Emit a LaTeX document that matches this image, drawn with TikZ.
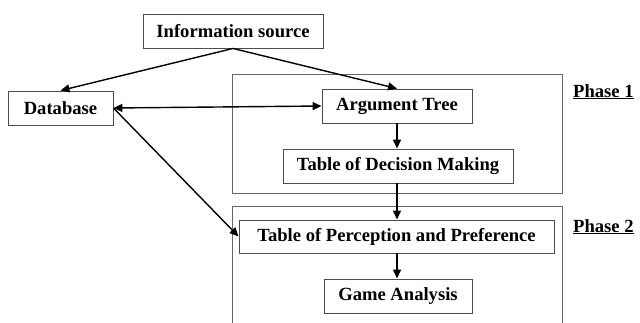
\documentclass[tikz,border=0pt]{standalone}
\usepackage{fontspec}
\setmainfont{Liberation Serif}
\usetikzlibrary{arrows.meta}
\begin{document}
\begin{tikzpicture}[x=1pt,y=-1pt,
  box/.style={draw=black!70,line width=0.9pt,inner sep=0pt,minimum height=34pt,font=\fontsize{18.6}{20}\selectfont\bfseries},
  frame/.style={draw=black!60,line width=0.9pt},
  conn/.style={line width=1.4pt,-{Triangle[length=9pt,width=8pt]}},
  lab/.style={font=\fontsize{18.6}{20}\selectfont\bfseries,anchor=base west,inner sep=0pt}]
\useasboundingbox (0,0) rectangle (640,322);
\begin{scope}
\clip (0,0) rectangle (640,322);
\draw[frame] (232,74) rectangle (562,193);
\draw[frame] (232,206) rectangle (562,340);
\end{scope}
\node[box,minimum width=180pt] (info) at (233,31) {Information source};
\node[box,minimum width=105pt] (db) at (60.5,108) {Database};
\node[box,minimum width=150pt] (arg) at (397,106) {Argument Tree};
\node[box,minimum width=230pt] (dec) at (398,166) {Table of Decision Making};
\node[box,minimum width=315pt,minimum height=33pt] (per) at (396.5,236.5) {Table of Perception and Preference};
\node[box,minimum width=148pt] (game) at (398,296) {Game Analysis};
\node[lab] (p1) at (573,97) {\underline{Phase 1}};
\node[lab] (p2) at (573,232) {\underline{Phase 2}};
\draw[conn] (info.south) -- (db.north);
\draw[conn] (info.south) -- (arg.north);
\draw[conn,{Triangle[length=9pt,width=8pt]}-{Triangle[length=9pt,width=8pt]}] (db.east) -- (arg.west);
\draw[conn] (db.east) -- (per.west);
\draw[conn] (arg.south) -- (arg.south |- dec.north);
\draw[conn] (arg.south |- dec.south) -- (arg.south |- per.north);
\draw[conn] (arg.south |- per.south) -- (arg.south |- game.north);
\end{tikzpicture}
\end{document}
